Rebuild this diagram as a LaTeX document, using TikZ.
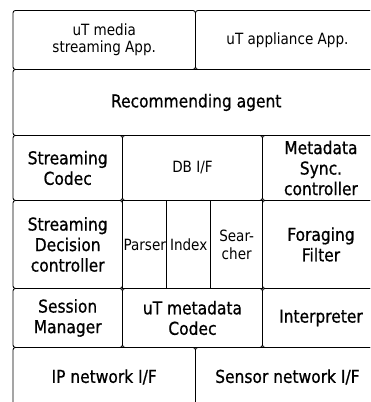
\documentclass[tikz,border=0pt]{standalone}
\usepackage{fontspec}
\setmainfont[FakeStretch=0.874]{DejaVu Sans}
\newfontfamily\heavyfont[FakeStretch=0.874,FakeBold=0.8]{DejaVu Sans}
\tikzset{
  cell/.style={draw=black, line width=0.9pt, rounded corners=2.5pt,
    anchor=north west, inner sep=0pt, align=center},
  slot/.style={draw=black, line width=1.4pt, anchor=north west,
    inner sep=0pt, align=center},
  bigtext/.style={font=\heavyfont\fontsize{17.7}{20.5}\selectfont},
  smalltext/.style={font=\fontsize{15.5}{17.5}\selectfont},
}
\begin{document}
\begin{tikzpicture}[x=1pt,y=-1pt]
  \useasboundingbox (0,0) rectangle (370,402);
  \clip (0,0) rectangle (370,402);

  % application layer
  \node[cell, smalltext, minimum width=182.5pt, minimum height=59pt] (app1) at (12.5,10) {uT media\\streaming App.};
  \node[cell, smalltext, minimum width=184pt, minimum height=59pt] (app2) at (195,10) {uT appliance App.};

  % agent
  \node[cell, bigtext, minimum width=366.5pt, minimum height=66pt] (agent) at (12.5,69) {Recommending agent};

  % third row
  \node[cell, bigtext, minimum width=109.5pt, minimum height=65pt] (scodec) at (12.5,135) {Streaming\\Codec};
  \node[cell, smalltext, minimum width=140pt, minimum height=65pt] (dbif) at (122,135) {DB I/F};
  \node[cell, bigtext, minimum width=117pt, minimum height=65pt] (msync) at (262,135) {Metadata\\Sync.\\controller};

  % fourth row
  \node[cell, bigtext, minimum width=109.5pt, minimum height=88pt] (sdc) at (12.5,200) {Streaming\\Decision\\controller};
  \node[slot, smalltext, minimum width=44pt, minimum height=88pt] (parser) at (122,200) {Parser};
  \node[slot, smalltext, minimum width=44pt, minimum height=88pt] (index) at (166,200) {Index};
  \node[slot, smalltext, minimum width=52pt, minimum height=88pt] (searcher) at (210,200) {Sear-\\cher};
  \node[cell, bigtext, minimum width=117pt, minimum height=88pt] (forage) at (262,200) {Foraging\\Filter};

  % fifth row
  \node[cell, bigtext, minimum width=109.5pt, minimum height=59pt] (session) at (12.5,288) {Session\\Manager};
  \node[cell, bigtext, minimum width=140pt, minimum height=59pt] (umc) at (122,288) {uT metadata\\Codec};
  \node[cell, bigtext, minimum width=117pt, minimum height=59pt] (interp) at (262,288) {Interpreter};

  % network interfaces
  \node[cell, bigtext, minimum width=182.5pt, minimum height=59pt] (ipnet) at (12.5,347) {IP network I/F};
  \node[cell, bigtext, minimum width=184pt, minimum height=59pt] (sensor) at (195,347) {Sensor network I/F};
\end{tikzpicture}
\end{document}
